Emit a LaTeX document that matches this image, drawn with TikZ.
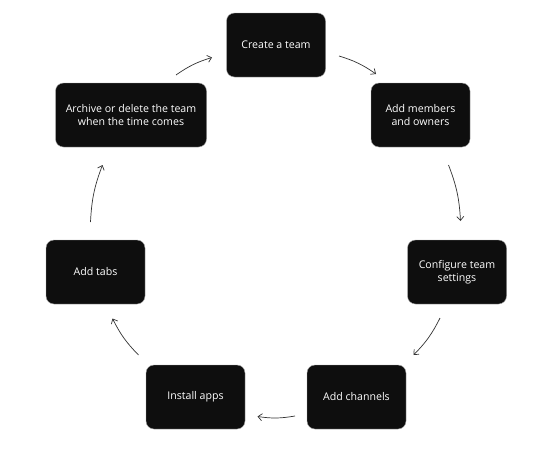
\documentclass[tikz,border=0pt]{standalone}
\usepackage{fontspec}
\setmainfont{Open Sans}
\usetikzlibrary{arrows.meta}
\definecolor{boxfill}{HTML}{0E0E0E}
\definecolor{arrowcol}{HTML}{333333}
\begin{document}
\begin{tikzpicture}[x=1pt,y=-1pt,
  stepbox/.style={draw=gray!70, line width=0.4pt, fill=boxfill, rounded corners=8pt,
    text=white, font=\fontsize{10.6}{13.2}\selectfont, align=center,
    minimum width=99pt, minimum height=64pt, inner sep=2pt},
  flow/.style={draw=arrowcol, line width=0.7pt, -{Straight Barb[length=4pt,width=7pt]}, bend left=9}]
\useasboundingbox (0,0) rectangle (541,450);
\fill[white] (0,0) rectangle (541,450);
\node[stepbox] (create) at (276,45) {Create a team};
\node[stepbox] (members) at (420.5,115) {Add members\\and owners};
\node[stepbox] (config) at (457,272) {Configure team\\settings};
\node[stepbox] (channels) at (356.5,397) {Add channels};
\node[stepbox] (apps) at (195.5,397) {Install apps};
\node[stepbox] (tabs) at (95.5,272) {Add tabs};
\node[stepbox, minimum width=151pt] (archive) at (131,115) {Archive or delete the team\\when the time comes};
\coordinate (a1s) at (176,75);  \coordinate (a1e) at (212,57.5);
\coordinate (a2s) at (339,56);  \coordinate (a2e) at (376,74);
\coordinate (a3s) at (448.5,165); \coordinate (a3e) at (460.5,221);
\coordinate (a4s) at (440,318); \coordinate (a4e) at (413.5,355);
\coordinate (a5s) at (295,416); \coordinate (a5e) at (257.5,416.5);
\coordinate (a6s) at (138.5,355); \coordinate (a6e) at (112.5,318.5);
\coordinate (a7s) at (90.5,222); \coordinate (a7e) at (102.5,165);
\draw[flow] (a1s) to (a1e);
\draw[flow] (a2s) to (a2e);
\draw[flow] (a3s) to (a3e);
\draw[flow] (a4s) to (a4e);
\draw[flow] (a5s) to (a5e);
\draw[flow] (a6s) to (a6e);
\draw[flow] (a7s) to (a7e);
\end{tikzpicture}
\end{document}
